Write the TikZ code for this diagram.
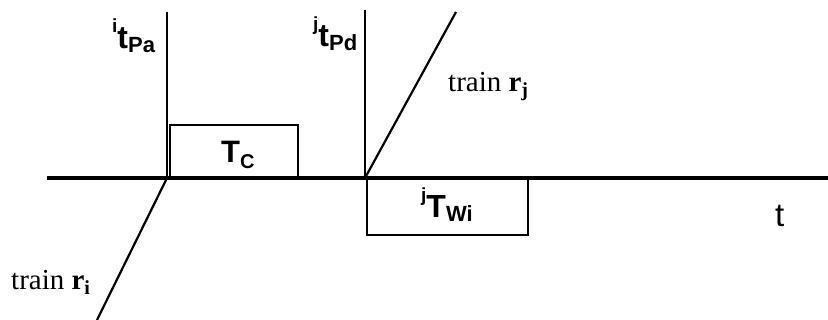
\documentclass[tikz,border=0pt]{standalone}
\usepackage{fontspec}
\setmainfont{Liberation Serif}
\newfontfamily\arialf{Liberation Sans}
\newcommand\fs[1]{\fontsize{#1}{#1}\selectfont}
% bold sans symbol with a left superscript and a subscript
\newcommand\sym[3]{{\arialf\bfseries
  \raisebox{16pt}{\fs{19}#1}\fs{32}#2\raisebox{-4pt}{\fs{22}#3}}}
\newcommand\trainlbl[1]{{\fs{29}train \textbf{r}\raisebox{-5pt}{\fs{20}\textbf{#1}}}}
\begin{document}
\begin{tikzpicture}[x=1pt,y=-1pt,
  axisline/.style={line width=4pt},
  mark line/.style={line width=1.8pt},
  trainline/.style={line width=2.2pt},
  interval/.style={draw,line width=1.4pt},
  lbl/.style={inner sep=0pt,anchor=base west}]
\useasboundingbox (0,0) rectangle (828,320);

% time axis
\coordinate (axL) at (47,178);
\coordinate (axR) at (828,178);
\draw[axisline] (axL) -- (axR);

% arrival and departure instants
\coordinate (pa) at (167,178);
\coordinate (paTop) at (167,12);
\coordinate (pd) at (365,178);
\coordinate (pdTop) at (365,10);
\draw[mark line] (pa) -- (paTop);
\draw[mark line] (pd) -- (pdTop);

% train paths
\coordinate (riEnd) at (97,320);
\coordinate (rjEnd) at (456,12);
\draw[trainline] (pa) -- (riEnd);
\draw[trainline] (pd) -- (rjEnd);

% intervals
\draw[interval] (170,125) rectangle (298,178);
\draw[interval] (367,178) rectangle (528,235);

% labels
\node[lbl] (lpa) at (112,49) {\sym{i}{t}{Pa}};
\node[lbl] (lpd) at (313,47) {\sym{j}{t}{Pd}};
\node[lbl] (ltc) at (221,163) {{\arialf\bfseries\fs{31}T\raisebox{-6pt}{\fs{20}C}}};
\node[lbl] (ltw) at (421,218) {\sym{j}{T}{Wi}};
\node[lbl] (lt) at (775,227) {{\arialf\fs{33}t}};
\node[lbl] (lrj) at (448,92) {\trainlbl{j}};
\node[lbl] (lri) at (11,290) {\trainlbl{i}};
\end{tikzpicture}
\end{document}
